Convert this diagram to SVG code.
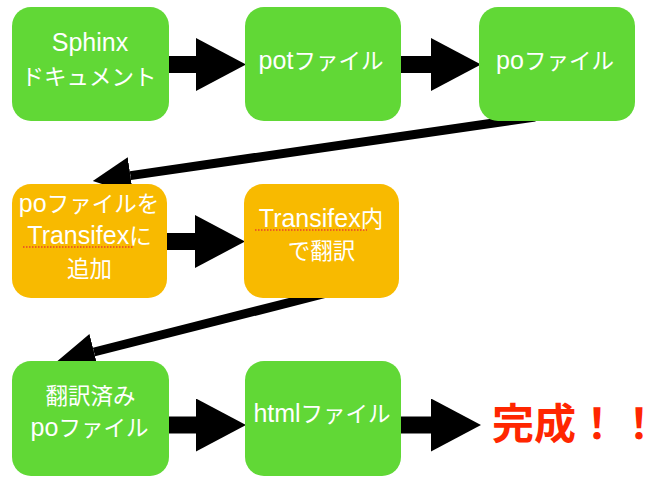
<svg xmlns="http://www.w3.org/2000/svg" width="662" height="485" viewBox="0 0 662 485">
  <style>
    .g { fill: #61D836; }
    .o { fill: #F8BA00; }
    .t { fill: #FFFFFF; font-family: "Liberation Sans", "Noto Sans CJK JP", sans-serif; font-size: 22.5px; text-anchor: middle; }
    .l { font-size: 25px; }
    .big { stroke: #000; stroke-width: 17; fill: none; }
    .thin { stroke: #000; stroke-width: 9; fill: none; }
    .sq { stroke: #E8412C; stroke-width: 1.5; stroke-dasharray: 1.5 1.5; fill: none; }
    .done { fill: #FF2600; font-family: "Noto Sans CJK JP", sans-serif; font-size: 42px; font-weight: bold; }
  </style>
  <defs>
    <marker id="headBig" markerUnits="userSpaceOnUse" markerWidth="50" markerHeight="53" refX="0" refY="26.5" orient="auto" viewBox="0 0 50 53">
      <path d="M0,0 L50,26.5 L0,53 Z" fill="#000"/>
    </marker>
    <marker id="headThin" markerUnits="userSpaceOnUse" markerWidth="38" markerHeight="37" refX="0" refY="18.5" orient="auto" viewBox="0 0 38 37">
      <path d="M0,0 L38,18.5 L0,37 Z" fill="#000"/>
    </marker>
  </defs>

  <g id="connectors">
    <line class="big" x1="168" y1="64.5" x2="196" y2="64.5" marker-end="url(#headBig)"/>
    <line class="big" x1="400" y1="64.5" x2="431" y2="64.5" marker-end="url(#headBig)"/>
    <line class="thin" x1="535" y1="117" x2="130.4" y2="175.6" marker-end="url(#headThin)"/>
    <line class="big" x1="166" y1="241.5" x2="195" y2="241.5" marker-end="url(#headBig)"/>
    <line class="thin" x1="327" y1="293" x2="94" y2="352" marker-end="url(#headThin)"/>
    <line class="big" x1="168" y1="425" x2="196" y2="425" marker-end="url(#headBig)"/>
    <line class="big" x1="400" y1="425" x2="431" y2="425" marker-end="url(#headBig)"/>
  </g>

  <g id="sphinx">
    <rect class="g" x="12" y="7" width="157" height="114" rx="19"/>
    <text class="t" x="90" y="51"><tspan class="l">Sphinx</tspan></text>
    <text class="t" x="89" y="85">ドキュメント</text>
  </g>
  <g id="pot">
    <rect class="g" x="245" y="7" width="156" height="114" rx="19"/>
    <text class="t" x="321" y="69"><tspan class="l">pot</tspan>ファイル</text>
  </g>
  <g id="po">
    <rect class="g" x="479" y="7" width="156" height="114" rx="19"/>
    <text class="t" x="555" y="69"><tspan class="l">po</tspan>ファイル</text>
  </g>
  <g id="add-transifex">
    <rect class="o" x="12" y="184" width="155" height="114" rx="19"/>
    <text class="t" x="89" y="212"><tspan class="l">po</tspan>ファイルを</text>
    <text class="t" x="89.5" y="244"><tspan class="l">Transifex</tspan>に</text>
    <text class="t" x="89.5" y="277">追加</text>
    <line class="sq" x1="23" y1="247" x2="133" y2="247"/>
  </g>
  <g id="translate">
    <rect class="o" x="244" y="184" width="155" height="114" rx="19"/>
    <text class="t" x="321" y="227"><tspan class="l">Transifex</tspan>内</text>
    <text class="t" x="321.5" y="259">で翻訳</text>
    <line class="sq" x1="255" y1="230" x2="367" y2="230"/>
  </g>
  <g id="translated-po">
    <rect class="g" x="12" y="361" width="157" height="115" rx="19"/>
    <text class="t" x="90.5" y="404">翻訳済み</text>
    <text class="t" x="89.5" y="436"><tspan class="l">po</tspan>ファイル</text>
  </g>
  <g id="html">
    <rect class="g" x="245" y="361" width="156" height="115" rx="19"/>
    <text class="t" x="322" y="422"><tspan class="l">html</tspan>ファイル</text>
  </g>
  <g id="complete">
    <text class="done" x="492" y="439">完成！！</text>
  </g>
</svg>
